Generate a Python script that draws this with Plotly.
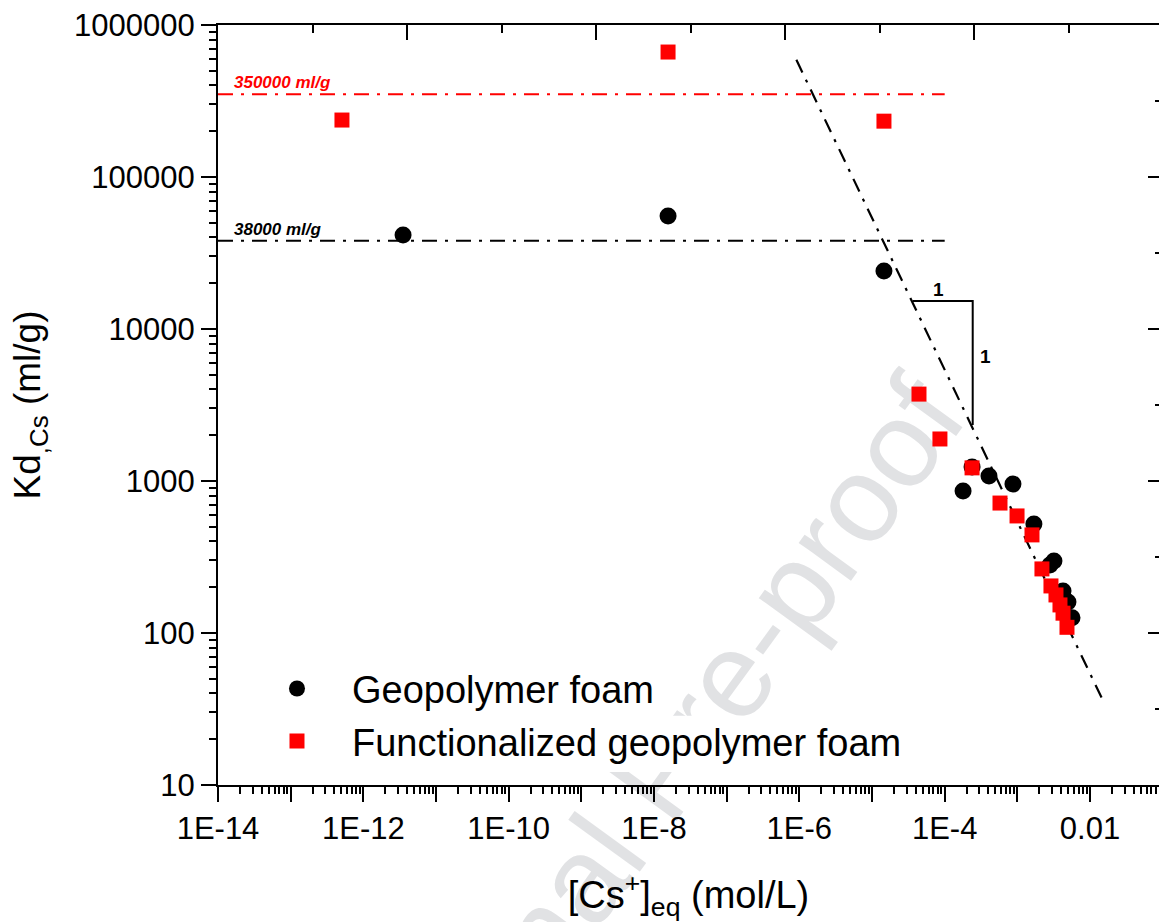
import plotly.graph_objects as go

# ---------------- data ----------------
geo_x = [3.52e-12, 1.56e-8, 1.46e-5, 1.79e-4, 2.38e-4, 4.07e-4, 8.7e-4,
         1.69e-3, 3.19e-3, 2.81e-3, 4.25e-3, 4.97e-3, 5.65e-3]
geo_y = [41500, 55300, 24100, 859, 1236, 1079, 955,
         521, 298, 280, 189, 160, 126]

fun_x = [5.08e-13, 1.56e-8, 1.46e-5, 4.43e-5, 8.6e-5, 2.38e-4, 5.77e-4,
         9.9e-4, 1.59e-3, 2.18e-3, 2.90e-3, 3.40e-3, 3.86e-3, 4.25e-3, 4.82e-3]
fun_y = [237000, 664000, 233000, 3730, 1890, 1220, 716,
         589, 442, 264, 204, 178, 153, 135, 109]

# plateau reference lines
plateau_x = [1e-14, 1e-4]
plateau_fun = [350000, 350000]
plateau_geo = [38000, 38000]

# slope -1 guide line
slope_x = [9.1e-7, 1.48e-2]
slope_y = [5.9e5, 36.6]

# slope triangle
tri_x = [3.63e-5, 2.43e-4, 2.43e-4]
tri_y = [15300, 15300, 2335]

x_tick_vals = [1e-14, 1e-13, 1e-12, 1e-11, 1e-10, 1e-9, 1e-8, 1e-7, 1e-6,
               1e-5, 1e-4, 1e-3, 1e-2]
x_tick_text = ["1E-14", "", "1E-12", "", "1E-10", "", "1E-8", "", "1E-6",
               "", "1E-4", "", "0.01"]
y_tick_vals = [10, 100, 1000, 10000, 100000, 1000000]
y_tick_text = ["10", "100", "1000", "10000", "100000", "1000000"]

# ---------------- figure ----------------
FONT = "Liberation Sans, Arial, sans-serif"

x_minor = [k * 10.0 ** d for d in range(-14, -1) for k in range(2, 10)]
y_minor = [k * 10.0 ** d for d in range(1, 6) for k in range(2, 10)]

fig = go.Figure()

fig.add_trace(go.Scatter(
    x=plateau_x, y=plateau_fun, mode="lines", showlegend=False,
    line=dict(color="#ff0000", width=2, dash="15px,8px,3px,8px"), hoverinfo="skip"))
fig.add_trace(go.Scatter(
    x=plateau_x, y=plateau_geo, mode="lines", showlegend=False,
    line=dict(color="black", width=2, dash="15px,8px,3px,8px"), hoverinfo="skip"))
fig.add_trace(go.Scatter(
    x=slope_x, y=slope_y, mode="lines", showlegend=False,
    line=dict(color="black", width=2.2, dash="14px,8px,3px,8px"), hoverinfo="skip"))
fig.add_trace(go.Scatter(
    x=tri_x, y=tri_y, mode="lines", showlegend=False,
    line=dict(color="black", width=2), hoverinfo="skip"))

fig.add_trace(go.Scatter(
    x=geo_x, y=geo_y, mode="markers", name="Geopolymer foam",
    marker=dict(symbol="circle", size=17, color="black")))
fig.add_trace(go.Scatter(
    x=fun_x, y=fun_y, mode="markers", name="Functionalized geopolymer foam",
    marker=dict(symbol="square", size=15, color="#ff0000")))

# dummy trace for top/right frame axes
fig.add_trace(go.Scatter(x=[], y=[], xaxis="x2", yaxis="y2", showlegend=False))

fig.update_layout(
    width=1159, height=922,
    margin=dict(l=218, r=0, t=25, b=137, pad=0),
    paper_bgcolor="white", plot_bgcolor="white",
    font=dict(family=FONT, color="black"),
    showlegend=True,
    legend=dict(x=0.0255, y=0.168, xanchor="left", yanchor="top",
                bgcolor="rgba(0,0,0,0)", font=dict(family=FONT, size=38, color="black"),
                itemwidth=100, borderwidth=0),
    xaxis=dict(
        type="log", range=[-14, -1.0508], showline=True, linecolor="black", linewidth=2,
        ticks="outside", ticklen=15, tickwidth=2, tickcolor="black",
        tickmode="array", tickvals=x_tick_vals, ticktext=x_tick_text,
        tickfont=dict(family=FONT, size=31, color="black"),
        minor=dict(tickmode="array", tickvals=x_minor, ticks="outside", ticklen=7,
                   tickwidth=1.5, tickcolor="black", showgrid=False),
        showgrid=False, zeroline=False,
        title=dict(text="[Cs<sup>+</sup>]<sub>eq</sub> (mol/L)",
                   font=dict(family=FONT, size=38, color="black"), standoff=38),
    ),
    yaxis=dict(
        type="log", range=[1, 6], showline=True, linecolor="black", linewidth=2,
        ticks="outside", ticklen=15, tickwidth=2, tickcolor="black",
        tickmode="array", tickvals=y_tick_vals, ticktext=y_tick_text,
        tickfont=dict(family=FONT, size=31, color="black"),
        minor=dict(tickmode="array", tickvals=y_minor, ticks="outside", ticklen=7,
                   tickwidth=1.5, tickcolor="black", showgrid=False),
        showgrid=False, zeroline=False,
        title=dict(text="Kd<sub>,Cs</sub> (ml/g)",
                   font=dict(family=FONT, size=37, color="black"), standoff=22),
    ),
    xaxis2=dict(
        overlaying="x", side="top", anchor="y2", range=[0, 941 / 189],
        showline=True, linecolor="black", linewidth=2,
        ticks="inside", ticklen=15, tickwidth=2, tickcolor="black", dtick=1, tick0=0,
        minor=dict(dtick=0.5, ticks="inside", ticklen=8, tickwidth=2, tickcolor="black"),
        showticklabels=False, showgrid=False, zeroline=False,
    ),
    yaxis2=dict(
        overlaying="y", side="right", anchor="x2", range=[0, 5],
        showline=False,
        ticks="inside", ticklen=11, tickwidth=2, tickcolor="black", dtick=1, tick0=0,
        minor=dict(dtick=0.5, ticks="inside", ticklen=4, tickwidth=2, tickcolor="black"),
        showticklabels=False, showgrid=False, zeroline=False,
    ),
)

# labels on the figure
fig.add_annotation(x=-13.807, y=5.544, xref="x", yref="y", text="<b><i>350000 ml/g</i></b>",
                   showarrow=False, xanchor="left", yanchor="bottom",
                   font=dict(family=FONT, size=17, color="#ff0000"))
fig.add_annotation(x=-13.807, y=4.58, xref="x", yref="y", text="<b><i>38000 ml/g</i></b>",
                   showarrow=False, xanchor="left", yanchor="bottom",
                   font=dict(family=FONT, size=17, color="black"))
fig.add_annotation(x=-4.092, y=4.263, xref="x", yref="y", text="<b>1</b>",
                   showarrow=False, font=dict(family=FONT, size=19, color="black"))
fig.add_annotation(x=-3.432, y=3.816, xref="x", yref="y", text="<b>1</b>",
                   showarrow=False, font=dict(family=FONT, size=19, color="black"))

# watermark, drawn below everything (shape label on the lower layer)
fig.add_shape(type="rect", xref="paper", yref="paper",
              x0=0.448, x1=0.468, y0=0.0137, y1=0.0337, layer="below",
              line=dict(width=0), fillcolor="rgba(0,0,0,0)",
              label=dict(text="Journal Pre-proof", textangle=-54,
                         textposition="middle center",
                         font=dict(family=FONT, size=122, color="#e1e2e4")))
# white boxes behind the legend texts (mask the watermark there)
fig.add_shape(type="rect", xref="paper", yref="paper", layer="below",
              x0=0.13, x1=0.478, y0=0.096, y1=0.154,
              line=dict(width=0), fillcolor="white")
fig.add_shape(type="rect", xref="paper", yref="paper", layer="below",
              x0=0.13, x1=0.748, y0=0.017, y1=0.091,
              line=dict(width=0), fillcolor="white")

fig.write_html("out.html")
